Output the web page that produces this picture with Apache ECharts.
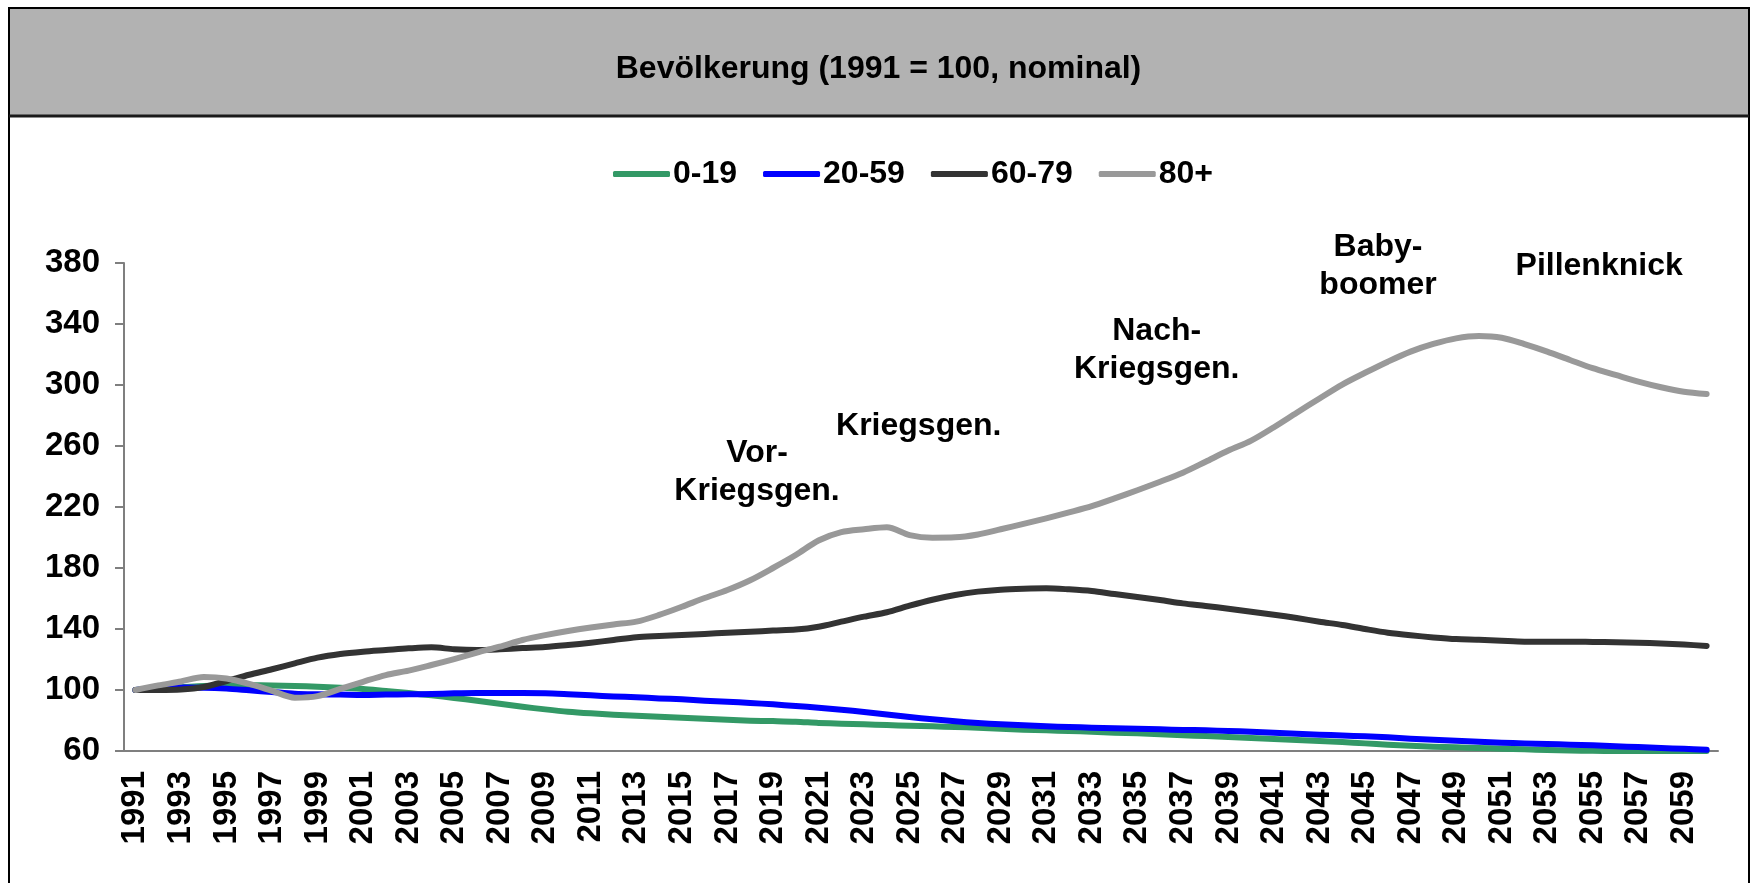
<!DOCTYPE html>
<html>
<head>
<meta charset="utf-8">
<script src="https://cdn.jsdelivr.net/npm/echarts@6/dist/echarts.min.js"></script>
<style>
html,body{margin:0;padding:0;background:#fff;}
#chart{width:1757px;height:883px;}
</style>
</head>
<body>
<div id="chart"></div>
<script>
const titleText = 'Bevölkerung (1991 = 100, nominal)';
const seriesNames = ['0-19', '20-59', '60-79', '80+'];
const years = [];
for (let y = 1991; y <= 2060; y++) years.push(String(y));

const age0_19 = [100,101.1,101.8,102.6,103,103.1,103,102.6,102.2,101.5,
  100.7,99.3,98,96.5,94.8,93,91,89,87.3,85.8,
  84.7,83.8,83.1,82.5,81.8,81.2,80.5,79.9,79.6,79.2,
  78.4,77.9,77.5,77,76.6,76.2,75.7,75.3,74.6,74,
  73.6,73.1,72.7,72,71.6,71,70.3,69.8,69.2,68.5,
  67.9,67.2,66.6,65.9,65,64.1,63.5,62.8,62.4,62,
  61.5,61.1,60.7,60.3,60.1,60,60,60,60,60];
const age20_59 = [100,101.1,101.6,101.5,100.9,99.8,98.7,97.6,97.2,97,
  96.7,97,97.2,97.4,97.8,98,98,98,97.8,97.2,
  96.5,95.8,95.2,94.5,93.9,93,92.3,91.5,90.6,89.5,
  88.4,87.1,85.6,84,82.3,80.8,79.5,78.4,77.5,76.9,
  76.2,75.7,75.3,74.9,74.6,74.2,73.8,73.6,73.1,72.7,
  72,71.3,70.7,70.2,69.6,69,68.1,67.4,66.8,66.1,
  65.4,65,64.6,64.1,63.7,63.1,62.6,62,61.4,60.8];
const age60_79 = [100,100,100.3,102,105.9,110,113.6,117.5,121.2,123.6,
  125.1,126.2,127.3,128,126.7,126.2,126.7,127.5,128.2,129.5,
  131,132.8,134.6,135.4,136.1,136.7,137.6,138.2,139,139.6,
  141.5,144.8,148.1,151,155.3,159.2,162.3,164.5,165.8,166.4,
  166.7,166,164.9,162.9,161,159,156.8,155.1,153.3,151.3,
  149.4,147.2,144.8,142.6,140,137.6,135.9,134.5,133.4,133,
  132.3,131.7,131.7,131.7,131.5,131.3,131,130.5,129.8,128.9];
const age80plus = [100,103,105.6,108.5,107.5,104,99.5,95,96,100.7,
  105.4,109.8,112.7,116.4,120.3,124.5,128.4,132.8,136,138.7,
  141,143,144.8,149.2,154.6,160.3,165.6,172,180,188.5,
  198,203.5,205.4,206.7,201.6,199.9,200.1,202,205.4,208.9,
  212.6,216.5,220.6,225.7,231,236.6,242.5,249.7,257,263.5,
  272.3,281.8,291.2,300.3,308,315.3,321.9,326.9,330.6,332.1,
  331,326.8,321.9,316.4,311,306.6,302.2,298.5,295.6,294.1];

// annotations: text, position in data space (fractional year, value)
const annoTexts = ['Vor-\nKriegsgen.', 'Kriegsgen.', 'Nach-\nKriegsgen.', 'Baby-\nboomer', 'Pillenknick'];
const annoYears = [2018.3, 2025.4, 2035.85, 2045.57, 2055.28];
const annoValues = [242.6, 273.1, 323, 377.7, 378];

const colors = ['#339966', '#0000FF', '#333333', '#999999'];
const FONT = '"Liberation Sans", Arial, sans-serif';

const chart = echarts.init(document.getElementById('chart'), null, {renderer: 'canvas'});

const allData = [age0_19, age20_59, age60_79, age80plus];
const option = {
  animation: false,
  backgroundColor: '#ffffff',
  title: {
    text: titleText,
    left: 'center',
    top: 48,
    textStyle: {fontFamily: FONT, fontWeight: 'bold', fontSize: 32, color: '#000'}
  },
  legend: {
    data: seriesNames,
    left: 608,
    top: 153,
    icon: 'roundRect',
    itemWidth: 57,
    itemHeight: 6,
    itemGap: 26,
    textStyle: {fontFamily: FONT, fontWeight: 'bold', fontSize: 32, color: '#000', padding: [0,0,0,-2]}
  },
  grid: {left: 124, right: 39, top: 263, bottom: 132, containLabel: false},
  xAxis: {
    type: 'category',
    data: years,
    boundaryGap: true,
    axisLine: {show: true, lineStyle: {color: '#7f7f7f', width: 2}},
    axisTick: {show: false},
    axisLabel: {
      interval: 1,
      rotate: 90,
      margin: 20,
      fontFamily: FONT, fontWeight: 'bold', fontSize: 33, color: '#000'
    },
    splitLine: {show: false}
  },
  yAxis: {
    type: 'value',
    min: 60,
    max: 380,
    interval: 40,
    axisLine: {show: true, lineStyle: {color: '#7f7f7f', width: 2}},
    axisTick: {show: true, length: 9, lineStyle: {color: '#7f7f7f', width: 2}},
    axisLabel: {margin: 24, fontFamily: FONT, fontWeight: 'bold', fontSize: 33, color: '#000'},
    splitLine: {show: false}
  },
  series: seriesNames.map((n, k) => ({
    name: n,
    type: 'line',
    data: allData[k],
    color: colors[k],
    showSymbol: false,
    symbol: 'none',
    smooth: 0.3,
    clip: false,
    lineStyle: {width: 6, color: colors[k], cap: 'round', join: 'round'},
    z: 2 + k
  })),
  graphic: [
    {type: 'rect', shape: {x: 9, y: 8, width: 1740, height: 108}, style: {fill: '#B2B2B2', stroke: '#000', lineWidth: 2}, z: -10, silent: true},
    {type: 'line', shape: {x1: 9, y1: 8, x2: 9, y2: 883}, style: {stroke: '#000', lineWidth: 2}, z: -9, silent: true},
    {type: 'line', shape: {x1: 1749, y1: 8, x2: 1749, y2: 883}, style: {stroke: '#000', lineWidth: 2}, z: -9, silent: true},
    {type: 'line', shape: {x1: 9, y1: 116, x2: 1749, y2: 116}, style: {stroke: '#1a1a1a', lineWidth: 3}, z: -9, silent: true}
  ]
};
chart.setOption(option);

// place annotation texts using the chart's own coordinate conversion
function toPixel(yearFrac, value) {
  const idx = yearFrac - 1991;
  const i0 = Math.floor(idx);
  const t = idx - i0;
  const p0 = chart.convertToPixel({xAxisIndex: 0, yAxisIndex: 0}, [years[i0], value]);
  const p1 = chart.convertToPixel({xAxisIndex: 0, yAxisIndex: 0}, [years[Math.min(i0 + 1, years.length - 1)], value]);
  return [p0[0] + (p1[0] - p0[0]) * t, p0[1]];
}
const annoGraphics = annoTexts.map((txt, k) => {
  const p = toPixel(annoYears[k], annoValues[k]);
  return {
    type: 'text',
    x: p[0], y: p[1],
    z: 20,
    silent: true,
    style: {
      text: txt,
      align: 'center',
      verticalAlign: 'middle',
      font: 'bold 32px ' + FONT,
      lineHeight: 38,
      fill: '#000'
    }
  };
});
chart.setOption({graphic: option.graphic.concat(annoGraphics)});
</script>
</body>
</html>
